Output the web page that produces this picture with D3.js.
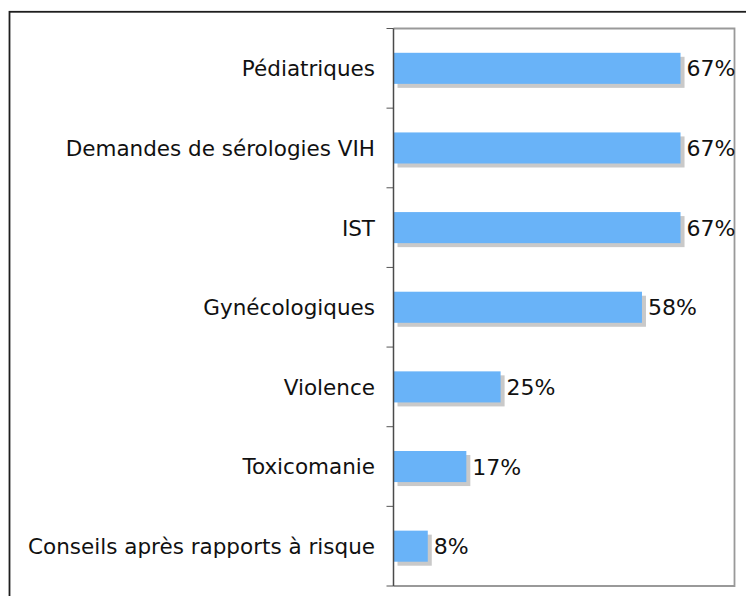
<!DOCTYPE html>
<html>
<head>
<meta charset="utf-8">
<script src="https://cdn.jsdelivr.net/npm/d3@7"></script>
<style>
  html, body { margin: 0; padding: 0; background: #fff; }
  svg { display: block; }
</style>
</head>
<body>
<svg id="chart" width="746" height="596"></svg>
<script>
// Motifs de consultation (share of structures, %)
const categories = [
  "Pédiatriques",
  "Demandes de sérologies VIH",
  "IST",
  "Gynécologiques",
  "Violence",
  "Toxicomanie",
  "Conseils après rapports à risque"
];
const values = [67, 67, 67, 58, 25, 17, 8];
const valueLabels = ["67%", "67%", "67%", "58%", "25%", "17%", "8%"];
const xDomain = [0, 79.6];

const svg = d3.select("#chart");
const font = "'DejaVu Sans', Verdana, sans-serif";

// outer frame (runs off the right and bottom edges)
svg.append("rect")
  .attr("x", 9.5).attr("y", 11.8)
  .attr("width", 800).attr("height", 700)
  .attr("fill", "none")
  .attr("stroke", "#1e1e1e")
  .attr("stroke-width", 1.8);

const plot = { left: 393.5, right: 734.5, top: 28.5, bottom: 586 };

const x = d3.scaleLinear().domain(xDomain).range([plot.left, plot.right]);
const y = d3.scaleBand().domain(categories).range([plot.top, plot.bottom]).paddingInner(0.61).paddingOuter(0.305);

// plot area frame (top, right, bottom)
svg.append("path")
  .attr("d", `M${plot.left},${plot.top}H${plot.right}V${plot.bottom}H${plot.left}`)
  .attr("fill", "none")
  .attr("stroke", "#999")
  .attr("stroke-width", 1.8);

// category ticks at band boundaries
const boundaries = d3.range(categories.length + 1).map(i => plot.top + i * (plot.bottom - plot.top) / categories.length);
svg.append("g").selectAll("line").data(boundaries).join("line")
  .attr("x1", plot.left - 7).attr("x2", plot.left)
  .attr("y1", d => d).attr("y2", d => d)
  .attr("stroke", "#555").attr("stroke-width", 1);

// bar shadows
svg.append("g").selectAll("rect").data(categories).join("rect")
  .attr("x", x(0) + 4)
  .attr("y", d => y(d) + 4)
  .attr("width", (d, i) => x(values[i]) - x(0))
  .attr("height", y.bandwidth())
  .attr("fill", "#c9c9c9");

// bars
svg.append("g").selectAll("rect").data(categories).join("rect")
  .attr("x", x(0))
  .attr("y", d => y(d))
  .attr("width", (d, i) => x(values[i]) - x(0))
  .attr("height", y.bandwidth())
  .attr("fill", "#69b3f8");

// left axis line
svg.append("line")
  .attr("x1", plot.left).attr("x2", plot.left)
  .attr("y1", plot.top).attr("y2", plot.bottom)
  .attr("stroke", "#4a4a4a").attr("stroke-width", 1.5);

// category labels
svg.append("g").selectAll("text").data(categories).join("text")
  .attr("x", plot.left - 18.5)
  .attr("y", d => y(d) + y.bandwidth() / 2 + 7.9)
  .attr("text-anchor", "end")
  .attr("font-family", font)
  .attr("font-size", 21.5)
  .attr("fill", "#111")
  .text(d => d);

// value labels
svg.append("g").selectAll("text").data(categories).join("text")
  .attr("x", (d, i) => x(values[i]) + 6)
  .attr("y", d => y(d) + y.bandwidth() / 2 + 8)
  .attr("font-family", font)
  .attr("font-size", 22)
  .attr("fill", "#111")
  .text((d, i) => valueLabels[i]);
</script>
</body>
</html>
